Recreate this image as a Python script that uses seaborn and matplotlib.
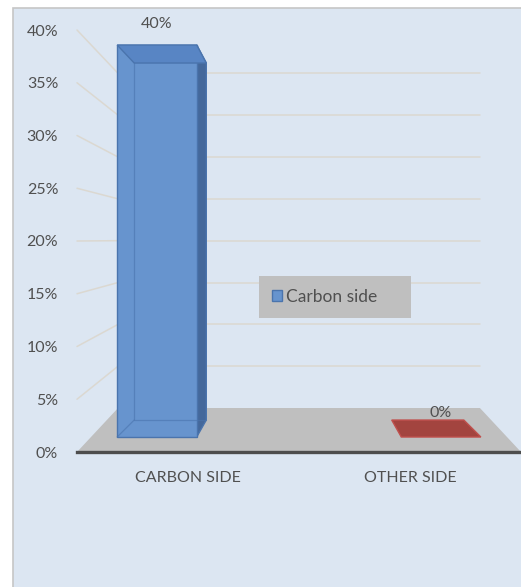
import numpy as np
import pandas as pd
import matplotlib
matplotlib.use("Agg")
import matplotlib.pyplot as plt
import seaborn as sns
from matplotlib.patches import Polygon, Rectangle, Patch
from matplotlib.transforms import Affine2D

# ---- data ----
categories = ["CARBON SIDE", "OTHER SIDE"]
values = [0.40, 0.0]
series_name = "Carbon side"
y_ticks = [0.0, 0.05, 0.10, 0.15, 0.20, 0.25, 0.30, 0.35, 0.40]
y_tick_labels = ["0%", "5%", "10%", "15%", "20%", "25%", "30%", "35%", "40%"]
bar_labels = ["40%", "0%"]

# ---- style ----
front_colors = ["#6794ce", "#a3443f"]
top_colors = ["#5885c4", "#a3443f"]
side_colors = ["#44689b", "#7d2f2b"]
edge_colors = ["#4a74ad", "#c0504d"]
bg_color = "#dce6f2"
floor_color = "#bfbfbf"
grid_color = "#dbd8d1"
text_color = "#505050"

sns.set_theme(style="white")
plt.rcParams['font.family'] = ['Lato', 'DejaVu Sans']

fig = plt.figure(figsize=(5.21, 5.87), dpi=100)
fig.patch.set_facecolor("white")
fig.patches.append(Rectangle((13 / 521, -0.02), 1.0, (587 - 8) / 587 + 0.02,
                             transform=fig.transFigure, facecolor=bg_color,
                             edgecolor="#c6c6c6", lw=1.2, zorder=-5))

ax = fig.add_axes([77 / 521, 135 / 587, 444 / 521, 422 / 587])
ax.set_facecolor("none")
ax.set_zorder(2)

df = pd.DataFrame({"category": categories, "value": values})
sns.barplot(data=df, x="category", y="value", hue="category",
            palette=front_colors, width=0.28, ax=ax, legend=False,
            saturation=1, zorder=4)
ax.set_xlim(-0.5, 1.5)
ax.set_ylim(0, 0.4)

# pseudo-3D projection parameters (style)
VP = 0.5
FS, FY0, FK = 1.28, 0.0142, 0.929   # front plane of bars
BS, BY0, BK = 1.16, 0.0303, 0.846   # back plane of bars
WS, WY0, WK = 0.815, 0.0417, 0.793  # back wall / floor back edge

def front(x, y):
    return VP + FS * (x - VP), FY0 + FK * y

def back(x, y):
    return VP + BS * (x - VP), BY0 + BK * y

def wall(x, y):
    return VP + WS * (x - VP), WY0 + WK * y

x_lo, x_hi = ax.get_xlim()

# floor
floor = Polygon([(x_lo, 0), (x_hi, 0), wall(x_hi, 0), wall(x_lo, 0)],
                closed=True, facecolor=floor_color, edgecolor="none",
                zorder=1, clip_on=False)
ax.add_patch(floor)

# back wall grid + diagonals
for t in y_ticks[1:]:
    wl = wall(x_lo, t)
    wr = wall(x_hi, t)
    ax.plot([wl[0], wr[0]], [wl[1], wr[1]], color=grid_color, lw=1.1,
            zorder=1.5, clip_on=False)
    ax.plot([x_lo, wl[0]], [t, wl[1]], color=grid_color, lw=1.1,
            zorder=1.5, clip_on=False)

# bars: front face via projection, plus top and side faces
front_tf = Affine2D().scale(FS, FK).translate(VP - FS * VP, FY0)
for i, p in enumerate(ax.patches[: len(values)]):
    x0, w, h = p.get_x(), p.get_width(), p.get_height()
    x1 = x0 + w
    p.set_transform(front_tf + ax.transData)
    p.set_clip_on(False)
    p.set_edgecolor(edge_colors[i] if h > 0 else "none")
    p.set_linewidth(1.0)
    # top face
    top = Polygon([front(x0, h), front(x1, h), back(x1, h), back(x0, h)],
                  closed=True, facecolor=top_colors[i],
                  edgecolor=edge_colors[i], lw=1.0, zorder=4.5, clip_on=False)
    ax.add_patch(top)
    if h > 0:
        cx = x0 + w / 2
        sx = x1 if cx < VP else x0
        side = Polygon([front(sx, h), back(sx, h), back(sx, 0), front(sx, 0)],
                       closed=True, facecolor=side_colors[i],
                       edgecolor=edge_colors[i], lw=1.0, zorder=3.9, clip_on=False)
        ax.add_patch(side)
        # faint back edges seen through the translucent bar
        bl, br = back(x0, 0), back(x1, 0)
        btl = back(x0, h)
        fl = front(x0, 0)
        ax.plot([btl[0], bl[0], br[0]], [btl[1], bl[1], br[1]],
                color=edge_colors[i], lw=0.9, alpha=0.6, zorder=4.6, clip_on=False)
        ax.plot([fl[0], bl[0]], [fl[1], bl[1]],
                color=edge_colors[i], lw=0.9, alpha=0.6, zorder=4.6, clip_on=False)
    # data label
    lx, ly = front(x0 + w / 2, h)
    ax.annotate(bar_labels[i], (lx, ly), xytext=(0, 15 if h > 0 else 17),
                textcoords="offset points", ha="center", va="center",
                fontsize=11.5, color=text_color, zorder=6, annotation_clip=False)

# axes styling
ax.set_yticks(y_ticks)
ax.set_yticklabels(y_tick_labels)
ax.set_xlabel("")
ax.set_ylabel("")
ax.tick_params(axis="y", length=0, pad=13.5, labelsize=11.5, labelcolor=text_color)
ax.tick_params(axis="x", length=0, pad=13.5, labelsize=11.5, labelcolor=text_color)
for s in ["top", "right", "left"]:
    ax.spines[s].set_visible(False)
ax.spines["bottom"].set_color("#4d4d4d")
ax.spines["bottom"].set_linewidth(2.4)
ax.spines["bottom"].set_zorder(2)

# legend
handle = Patch(facecolor=front_colors[0], edgecolor=edge_colors[0], label=series_name)
leg = ax.legend(handles=[handle], loc="center",
                bbox_to_anchor=(0.41, 0.268, 0.342, 0.2),
                mode="expand", frameon=True, fancybox=False, fontsize=12.5,
                borderpad=0.75, handlelength=0.6, handleheight=0.6,
                handletextpad=0.2, borderaxespad=0)
leg.get_frame().set_facecolor(floor_color)
leg.get_frame().set_edgecolor("none")
leg.get_frame().set_alpha(1)
for t in leg.get_texts():
    t.set_color(text_color)
leg.set_zorder(7)

fig.savefig("out.png", dpi=100, facecolor=fig.get_facecolor())
